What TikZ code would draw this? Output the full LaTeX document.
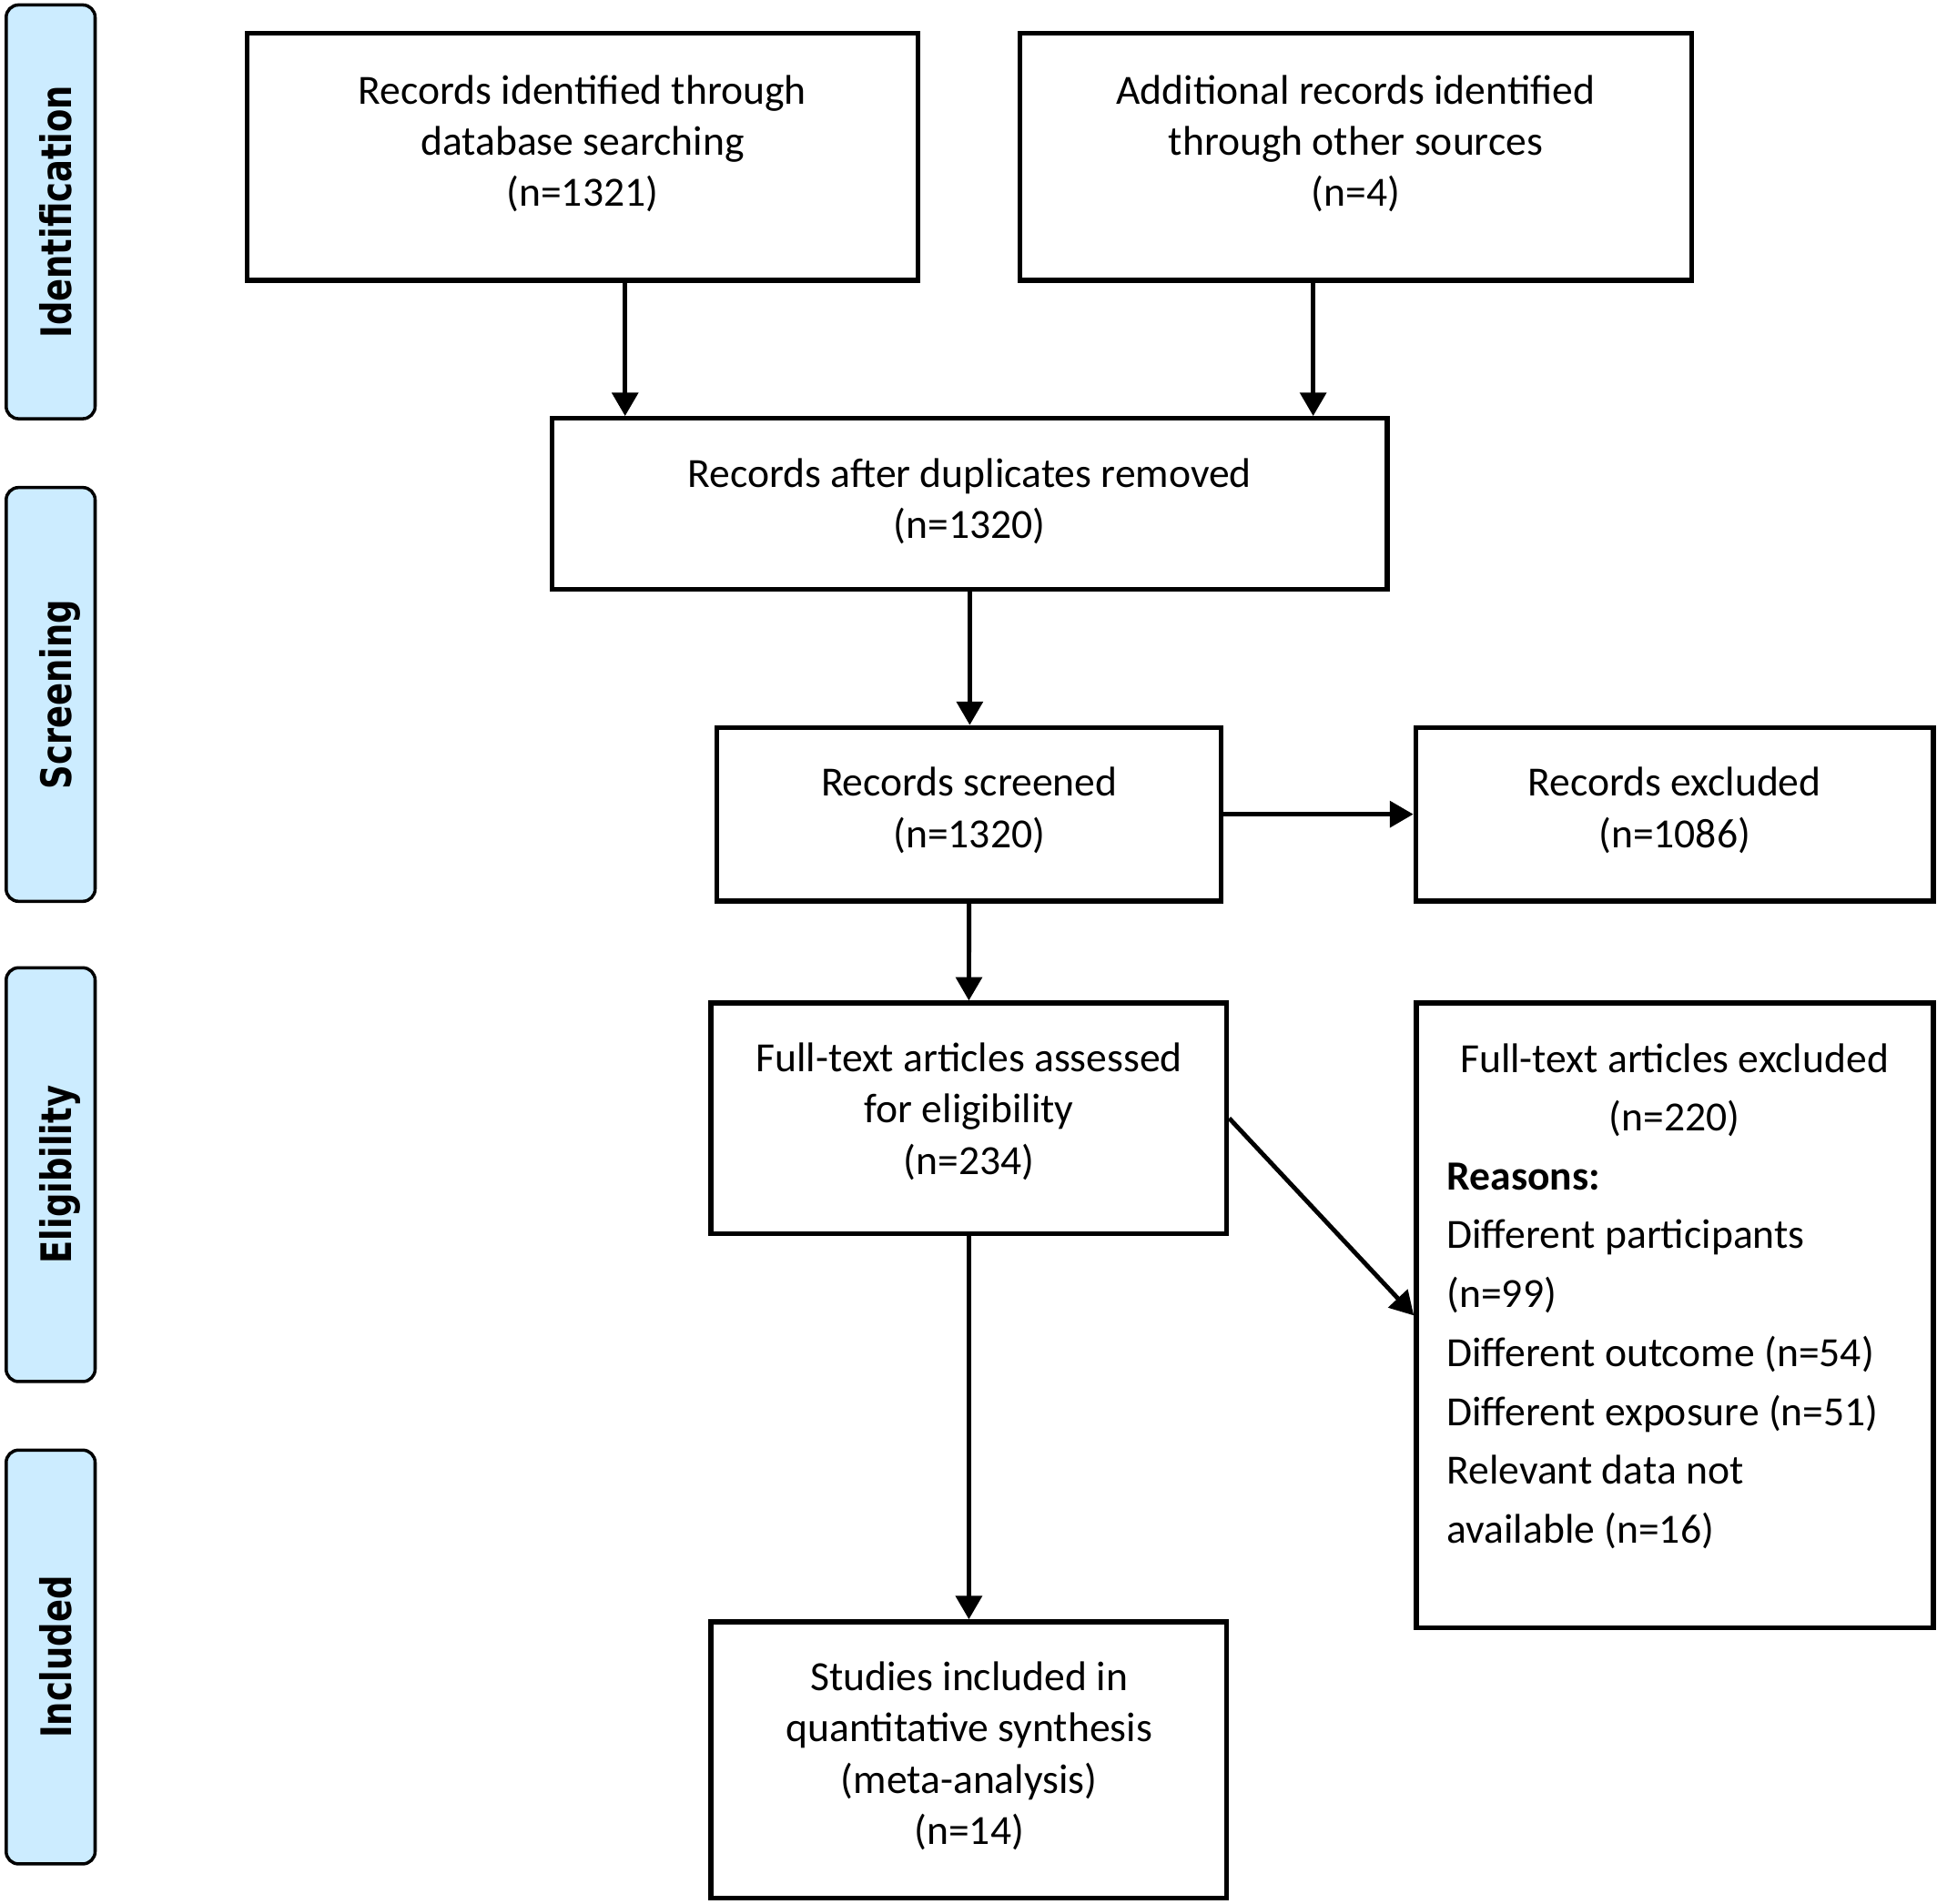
\documentclass[tikz,border=0pt]{standalone}
\usepackage{fontspec}
\setmainfont{Carlito}
\newfontfamily\labelfont[FakeStretch=0.8]{DejaVu Sans Bold}
\usetikzlibrary{arrows.meta}
\definecolor{phase}{RGB}{204,236,255}
\newcommand\firstline{\rule{0pt}{28pt}}
\begin{document}
\begin{tikzpicture}[x=1pt,y=-1pt,
  box/.style={draw, line width=3.9pt, rectangle, inner sep=0pt},
  phasebox/.style={draw, line width=2.6pt, fill=phase, rounded corners=10pt, minimum width=72pt, minimum height=335pt, inner sep=0pt},
  phasetxt/.style={rotate=90, anchor=base, inner sep=0pt, font=\labelfont\fontsize{34}{40}\selectfont},
  txt/.style={inner sep=0pt, align=center, anchor=north, font=\fontsize{33.6}{41.5}\selectfont},
  txtw/.style={inner sep=0pt, align=center, anchor=north, font=\fontsize{33.6}{47.6}\selectfont},
  txtl/.style={inner sep=0pt, align=left, anchor=north west, font=\fontsize{33.6}{47.7}\selectfont},
  arr/.style={line width=3.6pt, -{Triangle[width=21pt,length=19pt]}}]
\useasboundingbox (0,0) rectangle (1568,1541);

% phase labels
\node[phasebox] (pI) at (41,171.5) {};
\node[phasetxt] (tI) at (57.5,171.5) {Identification};
\node[phasebox] (pS) at (41,562.2) {};
\node[phasetxt] (tS) at (57.5,562.2) {Screening};
\node[phasebox] (pE) at (41,951) {};
\node[phasetxt] (tE) at (57.5,951) {Eligibility};
\node[phasebox] (pN) at (41,1341.5) {};
\node[phasetxt] (tN) at (57.5,1341.5) {Included};

% boxes
\node[box, minimum width=543pt, minimum height=200pt] (box1) at (471.5,127) {};
\node[box, minimum width=544pt, minimum height=200pt] (box2) at (1097.5,127) {};
\node[box, minimum width=676pt, minimum height=138.5pt] (box3) at (785,408) {};
\node[box, minimum width=408pt, minimum height=140.5pt] (box4) at (784.5,659.2) {};
\node[box, minimum width=419pt, minimum height=140.5pt] (box5) at (1355.5,659.2) {};
\node[box, minimum width=417.5pt, minimum height=186.6pt] (box6) at (784.3,905.3) {};
\node[box, minimum width=418.5pt, minimum height=506pt] (box7) at (1355.7,1065) {};
\node[box, minimum width=417.5pt, minimum height=223.5pt] (box8) at (784.3,1424.7) {};

% texts
\node[txt] (t1) at (471.5,56) {\firstline Records identified through\\database searching\\(n=1321)};
\node[txt] (t2) at (1097.5,56) {\firstline Additional records identified\\through other sources\\(n=4)};
\node[txt] (t3) at (785,366.5) {\firstline Records after duplicates removed\\(n=1320)};
\node[txt] (t4) at (784.5,616.5) {\firstline Records screened\\(n=1320)};
\node[txt] (t5) at (1355.5,616.5) {\firstline Records excluded\\(n=1086)};
\node[txt] (t6) at (784.5,839.5) {\firstline Full-text articles assessed\\for eligibility\\(n=234)};
\node[txtw] (t7a) at (1355.5,840) {\firstline Full-text articles excluded\\(n=220)};
\node[txtl] (t7b) at (1171,935) {\firstline\textbf{Reasons:}\\Different participants\\(n=99)\\Different outcome (n=54)\\Different exposure (n=51)\\Relevant data not\\available (n=16)};
\node[txt] (t8) at (784.5,1340.5) {\firstline Studies included in\\quantitative synthesis\\(meta-analysis)\\(n=14)};

% connectors
\coordinate (c1) at (506,0);
\coordinate (c2) at (1063,0);
\draw[arr] (box1.south -| c1) -- (box3.north -| c1);
\draw[arr] (box2.south -| c2) -- (box3.north -| c2);
\draw[arr] (box3.south) -- (box3.south |- box4.north);
\draw[arr] (box4.east) -- (box5.west);
\draw[arr] (box4.south) -- (box6.north);
\draw[arr] (box6.south) -- (box8.north);
\draw[arr] (box6.east) -- (box7.west);
\end{tikzpicture}
\end{document}
